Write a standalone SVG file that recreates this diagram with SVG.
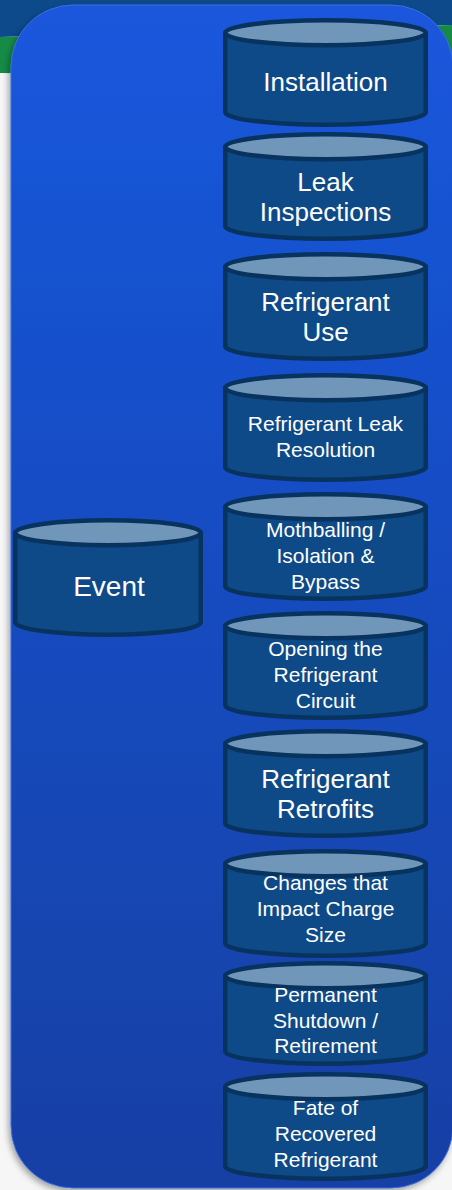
<svg xmlns="http://www.w3.org/2000/svg" width="452" height="1190" viewBox="0 0 452 1190">
<defs>
<linearGradient id="panelGrad" x1="0" y1="0" x2="0" y2="1">
<stop offset="0" stop-color="#1a57dc"/>
<stop offset="1" stop-color="#1440a4"/>
</linearGradient>
<filter id="shadow" x="-10%" y="-10%" width="120%" height="120%">
<feDropShadow dx="-2" dy="3" stdDeviation="3" flood-color="#000" flood-opacity="0.35"/>
</filter>
</defs>
<style>
.body{fill:#0e4a87;stroke:#08335f;stroke-width:4.5;stroke-linejoin:round}
.top{fill:#7096ba;stroke:#08335f;stroke-width:4.5}
.big{font-family:"Liberation Sans",Arial,sans-serif;font-size:26px;fill:#fff;text-anchor:middle}
.small{font-family:"Liberation Sans",Arial,sans-serif;font-size:21px;fill:#fff;text-anchor:middle}
.ev{font-family:"Liberation Sans",Arial,sans-serif;font-size:28px;fill:#fff;text-anchor:middle}
</style>
<rect x="0" y="0" width="452" height="1190" fill="#f6f6f6"/>
<polygon points="0,0 452,0 452,25 0,37" fill="#0c4a8b"/>
<polygon points="0,37 452,25 452,76 0,73" fill="#168b46"/>
<rect x="11" y="5" width="442" height="1183" rx="62" ry="62" fill="url(#panelGrad)" stroke="#3a6fe2" stroke-width="1" filter="url(#shadow)"/>
<g id="connectors"></g>
<g id="event">
<path class="body" d="M15.25,532.75 V622.25 A92.75,12.5 0 0 0 200.75,622.25 V532.75 Z"/>
<ellipse class="top" cx="108" cy="532.75" rx="92.75" ry="12.5"/>
<text class="ev" x="109" y="596">Event</text>
</g>
<g id="installation">
<path class="body" d="M225.25,32.75 V112.25 A100.25,12.5 0 0 0 425.75,112.25 V32.75 Z"/>
<ellipse class="top" cx="325.5" cy="32.75" rx="100.25" ry="12.5"/>
<text class="big" x="325.5" y="90.5">Installation</text>
</g>
<g id="leak-inspections">
<path class="body" d="M225.25,146.75 V226.25 A100.25,12.5 0 0 0 425.75,226.25 V146.75 Z"/>
<ellipse class="top" cx="325.5" cy="146.75" rx="100.25" ry="12.5"/>
<text class="big" x="325.5" y="190.5">Leak</text>
<text class="big" x="325.5" y="221">Inspections</text>
</g>
<g id="refrigerant-use">
<path class="body" d="M225.25,266.75 V346.25 A100.25,12.5 0 0 0 425.75,346.25 V266.75 Z"/>
<ellipse class="top" cx="325.5" cy="266.75" rx="100.25" ry="12.5"/>
<text class="big" x="325.5" y="310.5">Refrigerant</text>
<text class="big" x="325.5" y="341">Use</text>
</g>
<g id="leak-resolution">
<path class="body" d="M225.25,387.75 V467.25 A100.25,12.5 0 0 0 425.75,467.25 V387.75 Z"/>
<ellipse class="top" cx="325.5" cy="387.75" rx="100.25" ry="12.5"/>
<text class="small" x="325.5" y="430.5">Refrigerant Leak</text>
<text class="small" x="325.5" y="456.5">Resolution</text>
</g>
<g id="mothballing">
<path class="body" d="M225.25,506.75 V586.25 A100.25,12.5 0 0 0 425.75,586.25 V506.75 Z"/>
<ellipse class="top" cx="325.5" cy="506.75" rx="100.25" ry="12.5"/>
<text class="small" x="325.5" y="536.5">Mothballing /</text>
<text class="small" x="325.5" y="562.5">Isolation &amp;</text>
<text class="small" x="325.5" y="588.5">Bypass</text>
</g>
<g id="opening-circuit">
<path class="body" d="M225.25,625.75 V705.25 A100.25,12.5 0 0 0 425.75,705.25 V625.75 Z"/>
<ellipse class="top" cx="325.5" cy="625.75" rx="100.25" ry="12.5"/>
<text class="small" x="325.5" y="655.5">Opening the</text>
<text class="small" x="325.5" y="681.5">Refrigerant</text>
<text class="small" x="325.5" y="707.5">Circuit</text>
</g>
<g id="retrofits">
<path class="body" d="M225.25,743.75 V823.25 A100.25,12.5 0 0 0 425.75,823.25 V743.75 Z"/>
<ellipse class="top" cx="325.5" cy="743.75" rx="100.25" ry="12.5"/>
<text class="big" x="325.5" y="787.5">Refrigerant</text>
<text class="big" x="325.5" y="818">Retrofits</text>
</g>
<g id="charge-size">
<path class="body" d="M225.25,863.75 V943.25 A100.25,12.5 0 0 0 425.75,943.25 V863.75 Z"/>
<ellipse class="top" cx="325.5" cy="863.75" rx="100.25" ry="12.5"/>
<text class="small" x="325.5" y="890">Changes that</text>
<text class="small" x="325.5" y="916">Impact Charge</text>
<text class="small" x="325.5" y="942">Size</text>
</g>
<g id="shutdown">
<path class="body" d="M225.25,975.75 V1051.25 A100.25,12.5 0 0 0 425.75,1051.25 V975.75 Z"/>
<ellipse class="top" cx="325.5" cy="975.75" rx="100.25" ry="12.5"/>
<text class="small" x="325.5" y="1002">Permanent</text>
<text class="small" x="325.5" y="1027.5">Shutdown /</text>
<text class="small" x="325.5" y="1053">Retirement</text>
</g>
<g id="fate">
<path class="body" d="M225.25,1086.75 V1166.25 A100.25,12.5 0 0 0 425.75,1166.25 V1086.75 Z"/>
<ellipse class="top" cx="325.5" cy="1086.75" rx="100.25" ry="12.5"/>
<text class="small" x="325.5" y="1114.5">Fate of</text>
<text class="small" x="325.5" y="1140.5">Recovered</text>
<text class="small" x="325.5" y="1166.5">Refrigerant</text>
</g>
</svg>
